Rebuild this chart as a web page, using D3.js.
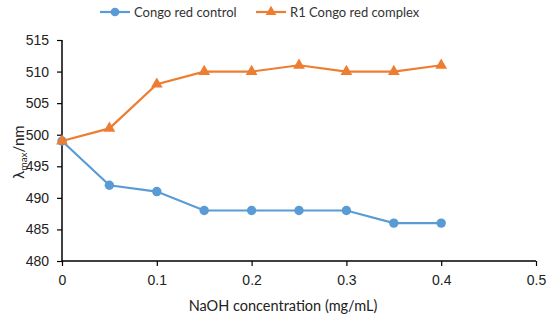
<!DOCTYPE html>
<html>
<head>
<meta charset="utf-8">
<script src="https://cdn.jsdelivr.net/npm/d3@7"></script>
<style>
  body { margin: 0; background: #fff; }
  svg { font-family: Lato, "Open Sans", sans-serif; }
</style>
</head>
<body>
<svg id="chart" width="550" height="321"></svg>
<script>
const concentrations = [0, 0.05, 0.1, 0.15, 0.2, 0.25, 0.3, 0.35, 0.4];
const controlValues = [499, 492, 491, 488, 488, 488, 488, 486, 486];
const complexValues = [499, 501, 508, 510, 510, 511, 510, 510, 511];
const xTicks = [0, 0.1, 0.2, 0.3, 0.4, 0.5];
const yTicks = [480, 485, 490, 495, 500, 505, 510, 515];
const seriesNames = ["Congo red control", "R1 Congo red complex"];

const blue = "#5b9bd5";
const orange = "#ed7d31";

const margin = { top: 40, right: 14, bottom: 60, left: 62 };
const width = 550 - margin.left - margin.right;
const height = 321 - margin.top - margin.bottom;

const svg = d3.select("#chart");
const g = svg.append("g").attr("transform", `translate(${margin.left},${margin.top})`);

const x = d3.scaleLinear().domain([0, 0.5]).range([0, width]);
const y = d3.scaleLinear().domain([480, 515]).range([height, 0]);

// axes
const xAxis = g.append("g")
  .attr("transform", `translate(0,${height})`)
  .call(d3.axisBottom(x).tickValues(xTicks).tickSize(5).tickPadding(9).tickFormat(d => d3.format("")(d)));
const yAxis = g.append("g")
  .call(d3.axisLeft(y).tickValues(yTicks).tickSize(5).tickPadding(8));

[xAxis, yAxis].forEach(a => {
  a.select(".domain").attr("stroke", "#000").attr("stroke-width", 1.5);
  a.selectAll(".tick line").attr("stroke", "#000").attr("stroke-width", 1.2);
  a.selectAll("text").attr("font-size", 14).attr("fill", "#222");
});
xAxis.select(".domain").attr("d", `M0,0H${width}`);
yAxis.select(".domain").attr("d", `M0,${height}V0`);

const line = d3.line().x(d => x(d[0])).y(d => y(d[1]));

function drawSeries(values, color, symbolType, size) {
  const pts = concentrations.map((c, i) => [c, values[i]]);
  g.append("path").datum(pts)
    .attr("fill", "none").attr("stroke", color).attr("stroke-width", 2.2)
    .attr("d", line);
  g.append("g").selectAll("path")
    .data(pts).enter().append("path")
    .attr("transform", d => `translate(${x(d[0])},${y(d[1])})`)
    .attr("d", d3.symbol().type(symbolType).size(size))
    .attr("fill", color);
}

drawSeries(controlValues, blue, d3.symbolCircle, 70);
drawSeries(complexValues, orange, d3.symbolTriangle, 60);

// axis titles
svg.append("text")
  .attr("x", 283)
  .attr("y", 311)
  .attr("text-anchor", "middle")
  .attr("font-size", 14.5)
  .attr("fill", "#222")
  .text("NaOH concentration (mg/mL)");

const yTitle = svg.append("text")
  .attr("transform", `translate(24,152) rotate(-90)`)
  .attr("text-anchor", "middle")
  .attr("font-size", 15)
  .attr("fill", "#222");
yTitle.append("tspan").text("λ");
yTitle.append("tspan").attr("font-size", 10).attr("dy", 3).text("max");
yTitle.append("tspan").attr("dy", -3).text("/nm");

// legend
const legendItems = [
  { name: seriesNames[0], color: blue, type: d3.symbolCircle, size: 60, x: 100 },
  { name: seriesNames[1], color: orange, type: d3.symbolTriangle, size: 50, x: 256 }
];
const legend = svg.append("g");
legendItems.forEach(item => {
  const lg = legend.append("g").attr("transform", `translate(${item.x},12)`);
  lg.append("line").attr("x1", 0).attr("x2", 30).attr("y1", 0).attr("y2", 0)
    .attr("stroke", item.color).attr("stroke-width", 2.2);
  lg.append("path").attr("transform", "translate(15,0)")
    .attr("d", d3.symbol().type(item.type).size(item.size)).attr("fill", item.color);
  lg.append("text").attr("x", 34).attr("y", 4.5)
    .attr("font-size", 13).attr("fill", "#333").text(item.name);
});
</script>
</body>
</html>
